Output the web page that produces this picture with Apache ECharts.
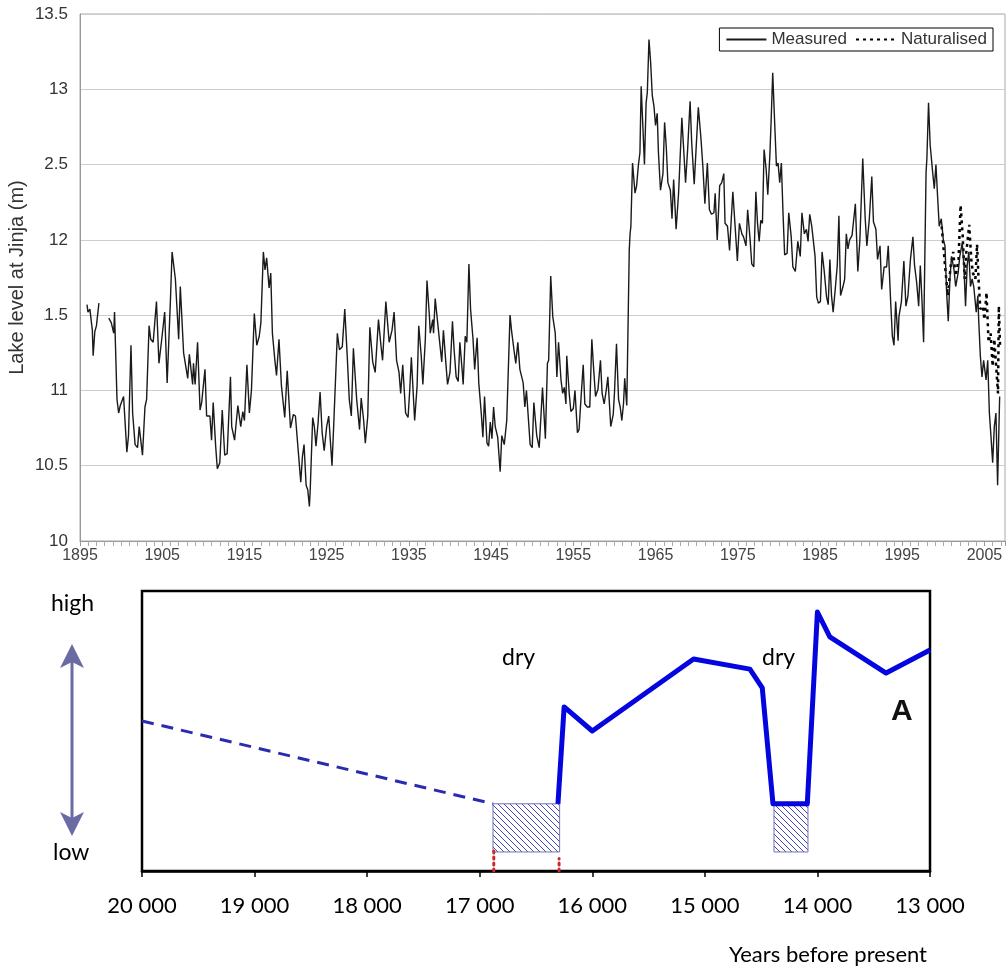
<!DOCTYPE html>
<html>
<head>
<meta charset="utf-8">
<script src="https://cdn.jsdelivr.net/npm/echarts@6/dist/echarts.min.js"></script>
<style>
  html, body { margin: 0; padding: 0; background: #fff; }
  #chart { width: 1007px; height: 967px; }
</style>
</head>
<body>
<div id="chart"></div>
<script>
// ---- top panel: lake level at Jinja ----
var measuredYear = [
  1895.85, 1895.97, 1896.2, 1896.5, 1896.6, 1896.8, 1897.0, 1897.3, 1897.9,
  1898.5, 1898.8, 1899.1, 1899.2, 1899.5, 1899.7, 1899.9, 1900.3, 1900.7, 1900.9,
  1901.2, 1901.4, 1901.7, 1902.0, 1902.2, 1902.6, 1902.9, 1903.1, 1903.4, 1903.6,
  1903.9, 1904.3, 1904.6, 1904.9, 1905.3, 1905.6, 1906.0, 1906.2, 1906.6, 1907.0,
  1907.2, 1907.6, 1908.1, 1908.3, 1908.7, 1908.8, 1909.0, 1909.3, 1909.6, 1909.8,
  1910.2, 1910.4, 1910.8, 1911.0, 1911.2, 1911.5, 1911.7, 1912.0, 1912.3, 1912.6,
  1912.9, 1913.3, 1913.45, 1913.8, 1914.2, 1914.55, 1914.8, 1915.0, 1915.3, 1915.6,
  1915.85, 1916.2, 1916.5, 1916.8, 1917.0, 1917.3, 1917.5, 1917.7, 1918.0, 1918.2,
  1918.4, 1918.7, 1918.9, 1919.2, 1919.5, 1919.9, 1920.2, 1920.6, 1920.95, 1921.2,
  1921.6, 1921.85, 1922.05, 1922.25, 1922.5, 1922.7, 1922.9, 1923.0, 1923.3, 1923.5,
  1923.7, 1923.95, 1924.2, 1924.45, 1924.7, 1925.0, 1925.25, 1925.65, 1925.85, 1926.05,
  1926.3, 1926.55, 1926.9, 1927.2, 1927.5, 1927.75, 1928.0, 1928.25, 1928.65, 1929.0,
  1929.2, 1929.5, 1929.7, 1930.0, 1930.25, 1930.6, 1930.9, 1931.3, 1931.6, 1931.8,
  1932.2, 1932.6, 1932.95, 1933.2, 1933.5, 1933.8, 1934.0, 1934.25, 1934.6, 1934.9,
  1935.1, 1935.3, 1935.7, 1936.0, 1936.2, 1936.5, 1936.7, 1937.0, 1937.2, 1937.5,
  1937.6, 1937.9, 1938.0, 1938.2, 1938.5, 1938.8, 1939.0, 1939.2, 1939.5, 1939.7,
  1940.0, 1940.3, 1940.5, 1940.75, 1941.0, 1941.2, 1941.5, 1941.6, 1941.85, 1942.05,
  1942.3, 1942.5, 1942.8, 1943.0, 1943.3, 1943.5, 1943.8, 1944.0, 1944.2, 1944.5,
  1944.7, 1944.9, 1945.1, 1945.3, 1945.5, 1945.8, 1946.1, 1946.3, 1946.6, 1946.9,
  1947.3, 1947.5, 1947.8, 1948.0, 1948.25, 1948.5, 1948.9, 1949.1, 1949.3, 1949.75,
  1950.0, 1950.2, 1950.55, 1950.85, 1951.25, 1951.6, 1951.85, 1952.0, 1952.25, 1952.5,
  1952.8, 1953.0, 1953.2, 1953.5, 1953.7, 1953.9, 1954.1, 1954.2, 1954.5, 1954.7,
  1955.0, 1955.2, 1955.5, 1955.7, 1955.9, 1956.2, 1956.4, 1956.7, 1957.0, 1957.25,
  1957.45, 1957.7, 1958.0, 1958.3, 1958.5, 1958.75, 1959.0, 1959.2, 1959.55, 1959.85,
  1960.0, 1960.25, 1960.5, 1960.7, 1960.9, 1961.1, 1961.25, 1961.5, 1961.8, 1961.9,
  1962.0, 1962.2, 1962.5, 1962.7, 1962.9, 1963.1, 1963.25, 1963.45, 1963.65, 1963.85,
  1964.0, 1964.2, 1964.4, 1964.6, 1964.8, 1965.0, 1965.2, 1965.35, 1965.6, 1965.9,
  1966.1, 1966.3, 1966.5, 1966.8, 1967.0, 1967.2, 1967.5, 1967.8, 1968.2, 1968.4,
  1968.65, 1968.9, 1969.2, 1969.4, 1969.7, 1969.9, 1970.2, 1970.5, 1970.75, 1971.0,
  1971.3, 1971.55, 1971.8, 1972.1, 1972.25, 1972.5, 1972.8, 1973.05, 1973.3, 1973.45,
  1973.75, 1974.0, 1974.2, 1974.4, 1974.7, 1974.95, 1975.2, 1975.5, 1975.7, 1976.0,
  1976.2, 1976.5, 1976.7, 1976.95, 1977.2, 1977.4, 1977.6, 1977.8, 1978.0, 1978.2,
  1978.45, 1978.65, 1978.9, 1979.05, 1979.25, 1979.5, 1979.7, 1979.9, 1980.1, 1980.3,
  1980.5, 1980.7, 1981.0, 1981.2, 1981.5, 1981.7, 1982.0, 1982.3, 1982.6, 1982.8,
  1983.1, 1983.35, 1983.55, 1983.75, 1984.0, 1984.2, 1984.4, 1984.6, 1984.8, 1985.05,
  1985.25, 1985.5, 1985.8, 1986.0, 1986.2, 1986.4, 1986.6, 1986.85, 1987.1, 1987.3,
  1987.5, 1987.8, 1988.0, 1988.2, 1988.4, 1988.6, 1988.9, 1989.3, 1989.6, 1989.85,
  1990.2, 1990.5, 1990.7, 1991.0, 1991.3, 1991.5, 1991.8, 1992.0, 1992.3, 1992.5,
  1992.8, 1993.1, 1993.3, 1993.6, 1993.8, 1994.0, 1994.2, 1994.5, 1994.6, 1994.9,
  1995.2, 1995.45, 1995.7, 1996.0, 1996.3, 1996.5, 1996.75, 1997.0, 1997.2, 1997.4,
  1997.6, 1997.9, 1998.0, 1998.2, 1998.4, 1998.7, 1998.9, 1999.1, 1999.3, 1999.5,
  1999.75, 2000.0, 2000.2, 2000.4, 2000.6, 2000.8, 2001.0, 2001.3, 2001.5, 2001.8,
  2002.0, 2002.3, 2002.5, 2002.7, 2002.9, 2003.1, 2003.3, 2003.5, 2003.7, 2004.0,
  2004.2, 2004.3, 2004.5, 2004.7, 2004.9, 2005.2, 2005.4, 2005.6, 2005.8, 2006.0,
  2006.2, 2006.4, 2006.6, 2006.85
];
var measuredLevel = [
  11.57, 11.52, 11.54, 11.40, 11.23, 11.39, 11.43, 11.58, null,
  11.48, 11.45, 11.38, 11.52, 10.94, 10.85, 10.90, 10.96, 10.59, 10.70,
  11.30, 10.85, 10.64, 10.62, 10.76, 10.57, 10.89, 10.94, 11.43, 11.34,
  11.32, 11.59, 11.18, 11.32, 11.52, 11.05, 11.60, 11.92, 11.74, 11.34,
  11.69, 11.25, 11.08, 11.24, 11.04, 11.18, 11.04, 11.32, 10.87, 10.92,
  11.14, 10.83, 10.83, 10.67, 10.92, 10.63, 10.48, 10.52, 10.87, 10.57,
  10.58, 11.09, 10.76, 10.67, 10.90, 10.76, 10.86, 10.80, 11.17, 10.85,
  11.00, 11.51, 11.30, 11.36, 11.45, 11.92, 11.80, 11.88, 11.68, 11.78,
  11.38, 11.20, 11.10, 11.34, 11.03, 10.82, 11.13, 10.75, 10.84, 10.83,
  10.56, 10.39, 10.56, 10.64, 10.37, 10.34, 10.23, 10.34, 10.82, 10.76,
  10.63, 10.78, 10.99, 10.72, 10.60, 10.76, 10.83, 10.50, 10.76, 10.76,
  11.38, 11.27, 11.29, 11.54, 11.23, 10.94, 10.83, 11.28, 10.94, 10.74,
  10.95, 10.80, 10.65, 10.83, 11.42, 11.19, 11.12, 11.47, 11.30, 11.20,
  11.59, 11.32, 11.40, 11.52, 11.20, 11.12, 10.98, 11.17, 10.85, 10.82,
  11.00, 11.22, 10.80, 11.03, 11.43, 11.23, 11.04, 11.34, 11.73, 11.49,
  11.38, 11.47, 11.38, 11.61, 11.45, 11.29, 11.19, 11.40, 11.18, 11.04,
  11.12, 11.46, 11.27, 11.09, 11.06, 11.32, 11.12, 11.04, 11.36, 11.32,
  11.84, 11.54, 11.34, 11.14, 11.35, 11.05, 10.85, 10.69, 10.96, 10.65,
  10.63, 10.79, 10.68, 10.89, 10.76, 10.69, 10.46, 10.70, 10.64, 10.80,
  11.50, 11.39, 11.26, 11.18, 11.32, 11.14, 11.05, 10.89, 11.00, 10.64,
  10.62, 10.92, 10.70, 10.62, 11.02, 10.68, 11.18, 11.20, 11.76, 11.49,
  11.38, 11.09, 11.32, 11.07, 10.98, 11.02, 10.91, 11.23, 10.98, 10.86,
  10.88, 11.00, 10.72, 10.74, 10.92, 11.17, 10.91, 10.89, 10.89, 11.34,
  11.16, 10.96, 11.01, 11.20, 10.98, 10.91, 11.00, 11.09, 10.76, 10.84,
  10.98, 11.31, 10.94, 10.89, 10.80, 10.91, 11.08, 10.90, 11.93, 12.04,
  12.09, 12.51, 12.31, 12.36, 12.49, 12.58, 13.02, 12.76, 12.50, 12.91,
  12.98, 13.33, 13.18, 12.96, 12.89, 12.76, 12.84, 12.58, 12.33, 12.44,
  12.78, 12.62, 12.38, 12.33, 12.14, 12.40, 12.07, 12.31, 12.81, 12.62,
  12.38, 12.60, 12.92, 12.64, 12.37, 12.38, 12.88, 12.69, 12.49, 12.24,
  12.51, 12.20, 12.17, 12.18, 12.31, 12.00, 12.36, 12.38, 12.44, 12.11,
  12.09, 11.93, 12.13, 12.32, 12.07, 11.86, 12.11, 12.04, 12.02, 11.96,
  12.20, 12.00, 11.84, 11.82, 12.32, 12.11, 11.99, 12.13, 12.11, 12.60,
  12.47, 12.30, 12.56, 12.78, 13.11, 12.76, 12.49, 12.51, 12.38, 12.51,
  12.18, 11.90, 11.91, 12.18, 12.02, 11.82, 11.79, 11.99, 11.89, 12.18,
  12.04, 12.07, 11.99, 12.17, 12.09, 12.09, 11.89, 11.62, 11.58, 11.59,
  11.92, 11.80, 11.62, 11.57, 11.87, 11.63, 11.52, 11.67, 11.83, 12.16,
  11.63, 11.69, 11.74, 12.04, 11.94, 12.00, 12.03, 12.24, 11.79, 12.00,
  12.54, 12.14, 11.96, 12.14, 12.42, 12.12, 12.07, 11.87, 11.96, 11.67,
  11.82, 11.82, 11.96, 11.58, 11.36, 11.30, 11.59, 11.33, 11.49, 11.59,
  11.86, 11.56, 11.63, 11.87, 12.02, 11.83, 11.72, 11.56, 11.83, 11.60,
  11.32, 12.45, 12.54, 12.91, 12.63, 12.45, 12.34, 12.50, 12.29, 12.09,
  12.14, 12.00, 11.96, 11.65, 11.46, 11.74, 11.89, 11.80, 11.69, 11.78,
  11.89, 11.98, 11.83, 11.56, 11.83, 11.92, 11.69, 11.74, 11.69, 11.52,
  11.63, 11.47, 11.23, 11.09, 11.20, 11.07, 11.20, 10.85, 10.69, 10.52,
  10.76, 10.85, 10.37, 10.96
];
var naturalYear = [
  1999.8, 2000.2, 2000.55, 2000.9, 2001.2, 2001.5, 2001.85, 2002.1, 2002.35, 2002.6,
  2002.8, 2003.15, 2003.4, 2003.6, 2003.9, 2004.1, 2004.3, 2004.5, 2004.8, 2005.0,
  2005.25, 2005.5, 2005.75, 2006.0, 2006.2, 2006.45, 2006.65, 2006.75, 2006.9
];
var naturalLevel = [
  12.09, 11.83, 11.63, 11.83, 11.92, 11.76, 11.87, 12.23, 12.03, 11.74,
  11.92, 12.10, 11.87, 11.78, 11.74, 11.97, 11.72, 11.54, 11.56, 11.47,
  11.65, 11.32, 11.38, 11.16, 11.34, 11.14, 10.98, 11.56, 11.29
];
var firstYear = 1895;

// ---- bottom panel: schematic lake level, years before present ----
var lateYears = [16305, 16250, 16000, 15100, 14600, 14490, 14395, 14090, 14000, 13890, 13390, 13000];
var lateLevel = [24, 58.6, 50, 75.7, 72.1, 65.4, 24, 24, 92.5, 83.6, 70.7, 78.9];
var earlyYears = [20000, 16882];
var earlyLevel = [53.6, 24];
// dry spells: [older edge, younger edge, bottom, top]
var drySpells = [[16882, 16290, 6.8, 24], [14386, 14084, 6.8, 24]];
var redMarkYears = [16875, 16295];
var redMarkTops = [8.5, 4.5];

function hatchCanvas() {
    var c = document.createElement('canvas');
    c.width = 6; c.height = 6;
    var g = c.getContext('2d');
    g.fillStyle = '#fff';
    g.fillRect(0, 0, 6, 6);
    g.strokeStyle = '#4646b4';
    g.lineWidth = 1;
    g.beginPath();
    g.moveTo(-1, -1); g.lineTo(7, 7);
    g.moveTo(-1, 5); g.lineTo(1, 7);
    g.moveTo(5, -1); g.lineTo(7, 1);
    g.stroke();
    return c;
}
var hatch = hatchCanvas();

function pairs(xs, ys, shift) {
    return xs.map(function (x, i) {
        var y = ys[i];
        return [x - (shift || 0), y == null ? '-' : y];
    });
}

var myChart = echarts.init(document.getElementById('chart'));

var option = {
    animation: false,
    backgroundColor: '#fff',
    legend: {
        data: ['Measured', 'Naturalised'],
        right: 14,
        top: 28,
        padding: [3, 6, 3, 6],
        itemGap: 8,
        itemWidth: 40,
        itemHeight: 14,
        borderColor: '#000',
        borderWidth: 1,
        itemStyle: { opacity: 0 },
        textStyle: { fontFamily: 'Liberation Sans', fontSize: 17, color: '#333' }
    },
    grid: [
        { left: 80, right: 2, top: 14, bottom: 426, show: true, borderColor: '#a8a8a8', borderWidth: 1,
          containLabel: false, outerBoundsMode: 'none' },
        { left: 142, right: 77, top: 591, bottom: 96, show: true, borderColor: '#000', borderWidth: 2.5,
          containLabel: false, outerBoundsMode: 'none' }
    ],
    xAxis: [
        {
            gridIndex: 0, type: 'value', min: 0, max: 112.5, interval: 10,
            axisLine: { lineStyle: { color: '#999' } },
            axisTick: { show: true, length: 5, lineStyle: { color: '#999' } },
            minorTick: { show: true, splitNumber: 10, length: 5, lineStyle: { color: '#aaa' } },
            splitLine: { show: false },
            axisLabel: {
                margin: 7, fontFamily: 'Liberation Sans', fontSize: 16, color: '#444',
                showMaxLabel: false,
                formatter: function (v) { return v % 10 === 0 ? String(firstYear + v) : ''; }
            }
        },
        {
            gridIndex: 1, type: 'value', inverse: true, min: 13000, max: 20000, interval: 1000,
            axisLine: { lineStyle: { color: '#000', width: 2.5 } },
            axisTick: { show: true, length: 6, lineStyle: { color: '#000', width: 1.5 } },
            splitLine: { show: false },
            axisLabel: {
                margin: 24, fontFamily: 'Lato', fontSize: 22, color: '#000',
                formatter: function (v) { return String(v).replace(/(\d+)(\d{3})$/, '$1 $2'); }
            }
        }
    ],
    yAxis: [
        {
            gridIndex: 0, type: 'value', min: 10, max: 13.5, interval: 0.5,
            name: 'Lake level at Jinja (m)', nameLocation: 'middle', nameGap: 53,
            nameMoveOverlap: false,
            nameTextStyle: { fontFamily: 'Liberation Sans', fontSize: 20, color: '#333' },
            axisLine: { show: true, lineStyle: { color: '#999' } },
            axisTick: { show: false },
            splitLine: { lineStyle: { color: '#cdcdcd' } },
            axisLabel: { margin: 12, fontFamily: 'Liberation Sans', fontSize: 17, color: '#333' }
        },
        {
            gridIndex: 1, type: 'value', min: 0, max: 100,
            axisLine: { show: false }, axisTick: { show: false },
            axisLabel: { show: false }, splitLine: { show: false }
        }
    ],
    series: [
        {
            name: 'Measured', type: 'line', xAxisIndex: 0, yAxisIndex: 0,
            data: pairs(measuredYear, measuredLevel, firstYear),
            symbol: 'none', connectNulls: false,
            lineStyle: { color: '#1a1a1a', width: 1.4 },
            itemStyle: { color: '#1a1a1a' }, z: 3
        },
        {
            name: 'Naturalised', type: 'line', xAxisIndex: 0, yAxisIndex: 0,
            data: pairs(naturalYear, naturalLevel, firstYear),
            symbol: 'none',
            lineStyle: { color: '#000', width: 2.5, type: [3, 4] },
            itemStyle: { color: '#000' }, z: 2
        },
        {
            type: 'custom', xAxisIndex: 1, yAxisIndex: 1,
            data: drySpells, encode: { x: [0, 1], y: [2, 3] }, z: 1,
            renderItem: function (params, api) {
                var a = api.coord([api.value(0), api.value(3)]);
                var b = api.coord([api.value(1), api.value(2)]);
                return {
                    type: 'rect',
                    shape: {
                        x: Math.min(a[0], b[0]), y: Math.min(a[1], b[1]),
                        width: Math.abs(b[0] - a[0]), height: Math.abs(b[1] - a[1])
                    },
                    style: { fill: { image: hatch, repeat: 'repeat' }, stroke: '#7272b4', lineWidth: 1 }
                };
            }
        },
        {
            type: 'line', xAxisIndex: 1, yAxisIndex: 1,
            data: pairs(earlyYears, earlyLevel), symbol: 'none',
            lineStyle: { color: '#2b2bb0', width: 3, type: [12, 8] }, z: 3
        },
        {
            type: 'line', xAxisIndex: 1, yAxisIndex: 1,
            data: pairs(lateYears, lateLevel), symbol: 'none',
            lineStyle: { color: '#0505e0', width: 5, join: 'round' }, z: 4
        }
    ].concat(redMarkYears.map(function (yr, i) {
        return {
            type: 'line', xAxisIndex: 1, yAxisIndex: 1,
            data: [[yr, 0], [yr, redMarkTops[i]]], symbol: 'none',
            lineStyle: { color: '#cc2a2a', width: 3, type: [2, 4], cap: 'round' }, z: 2
        };
    })),
    graphic: [
        // the axis title hides the leading "1" of two tick labels in the original
        { type: 'rect', z: 100, shape: { x: 30, y: 150, width: 14.5, height: 180 }, style: { fill: '#fff' } },
        { type: 'text', left: 51, top: 592, style: { text: 'high', font: '23px Lato', fill: '#000' } },
        { type: 'text', left: 53, top: 841, style: { text: 'low', font: '23px Lato', fill: '#000' } },
        { type: 'line', shape: { x1: 72, y1: 660, x2: 72, y2: 820 }, style: { stroke: '#6b6ba3', lineWidth: 3 } },
        { type: 'polygon', shape: { points: [[72, 644], [60, 668], [72, 662], [84, 668]] }, style: { fill: '#6b6ba3' } },
        { type: 'polygon', shape: { points: [[72, 836], [60, 812], [72, 818], [84, 812]] }, style: { fill: '#6b6ba3' } },
        { type: 'text', left: 502, top: 646, style: { text: 'dry', font: '23px Lato', fill: '#000' } },
        { type: 'text', left: 762, top: 646, style: { text: 'dry', font: '23px Lato', fill: '#000' } },
        { type: 'text', left: 891, top: 697, style: { text: 'A', font: 'bold 30px "Liberation Sans"', fill: '#111' } },
        { type: 'text', right: 80, top: 944, style: { text: 'Years before present', font: '22px Lato', fill: '#000' } }
    ]
};

myChart.setOption(option);
</script>
</body>
</html>
